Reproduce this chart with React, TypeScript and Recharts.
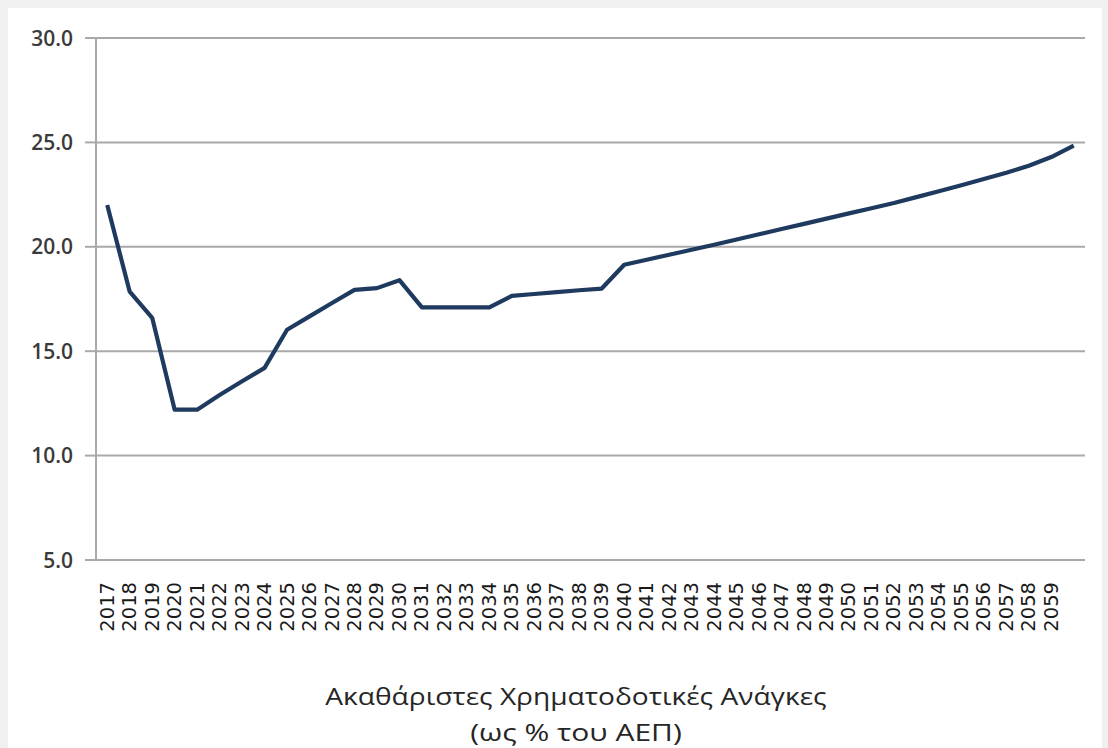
import React from "react";
import { LineChart, Line, XAxis, YAxis, CartesianGrid } from "recharts";

const years = [
  2017, 2018, 2019, 2020, 2021, 2022, 2023, 2024, 2025, 2026, 2027,
  2028, 2029, 2030, 2031, 2032, 2033, 2034, 2035, 2036, 2037, 2038,
  2039, 2040, 2041, 2042, 2043, 2044, 2045, 2046, 2047, 2048, 2049,
  2050, 2051, 2052, 2053, 2054, 2055, 2056, 2057, 2058, 2059, 2060,
];

const grossFinancingNeeds = [
  22.0, 17.85, 16.6, 12.2, 12.2, 12.9, 13.56, 14.2, 16.03, 16.67, 17.31,
  17.94, 18.02, 18.4, 17.1, 17.1, 17.1, 17.1, 17.65, 17.74, 17.83, 17.92,
  18.0, 19.14, 19.38, 19.62, 19.86, 20.1, 20.35, 20.6, 20.85, 21.1, 21.35,
  21.6, 21.85, 22.1, 22.38, 22.66, 22.95, 23.25, 23.55, 23.88, 24.3, 24.85,
];

const labelYears = [
  2017, 2018, 2019, 2020, 2021, 2022, 2023, 2024, 2025, 2026, 2027,
  2028, 2029, 2030, 2031, 2032, 2033, 2034, 2035, 2036, 2037, 2038,
  2039, 2040, 2041, 2042, 2043, 2044, 2045, 2046, 2047, 2048, 2049,
  2050, 2051, 2052, 2053, 2054, 2055, 2056, 2057, 2058, 2059,
];

const yTicks = [5, 10, 15, 20, 25, 30];

const titleLine1 = "Ακαθάριστες Χρηματοδοτικές Ανάγκες";
const titleLine2 = "(ως % του ΑΕΠ)";

const data = years.map((year, i) => ({ year, value: grossFinancingNeeds[i] }));
const boundaryTicks = [...years.map((y) => y - 0.5), years[years.length - 1] + 0.5];

const GRID = "#a9a9a9";

const XTick = (props: any) => {
  const { x, y, payload } = props;
  return (
    <text
      transform={`translate(${x + 6.5},${y + 14}) rotate(-90)`}
      textAnchor="end"
      fontFamily="'DejaVu Sans', sans-serif"
      fontSize={19.5}
      fill="#1a1a1a"
    >
      {payload.value}
    </text>
  );
};

const YTick = (props: any) => {
  const { x, y, payload } = props;
  return (
    <text
      x={x}
      y={y}
      dy="0.36em"
      textAnchor="end"
      fontFamily="'Open Sans', sans-serif"
      fontWeight={600}
      fontSize={21}
      fill="#3a3a3a"
    >
      {Number(payload.value).toFixed(1)}
    </text>
  );
};

export default function App() {
  return (
    <div
      style={{
        position: "absolute",
        left: 0,
        top: 0,
        width: 1108,
        height: 748,
        background: "#f0f0f0",
        overflow: "hidden",
      }}
    >
      <div
        style={{
          position: "absolute",
          left: 8,
          top: 8,
          width: 1094,
          height: 740,
          background: "#ffffff",
        }}
      />
      <div style={{ position: "absolute", left: 0, top: 0 }}>
        <LineChart
          width={1108}
          height={748}
          data={data}
          margin={{ top: 38, right: 23, left: 0, bottom: 108 }}
        >
          <CartesianGrid vertical={false} stroke={GRID} strokeWidth={2} />
          <XAxis
            xAxisId="marks"
            type="number"
            dataKey="year"
            domain={[2016.5, 2060.5]}
            ticks={boundaryTicks}
            tick={false}
            tickSize={7}
            height={0}
            stroke={GRID}
            tickLine={{ stroke: GRID, strokeWidth: 1.5 }}
            axisLine={{ stroke: GRID, strokeWidth: 2 }}
          />
          <XAxis
            xAxisId="labels"
            type="number"
            dataKey="year"
            domain={[2016.5, 2060.5]}
            ticks={labelYears}
            interval={0}
            tick={<XTick />}
            tickLine={false}
            axisLine={false}
            height={80}
          />
          <YAxis
            type="number"
            domain={[5, 30]}
            ticks={yTicks}
            interval={0}
            width={96}
            tickSize={11}
            tickMargin={12}
            tick={<YTick />}
            tickLine={{ stroke: GRID, strokeWidth: 2 }}
            axisLine={{ stroke: GRID, strokeWidth: 2 }}
          />
          <Line
            xAxisId="labels"
            type="linear"
            dataKey="value"
            stroke="#1f3a5f"
            strokeWidth={4.2}
            dot={false}
            isAnimationActive={false}
            strokeLinejoin="round"
          />
        </LineChart>
      </div>
      <div
        style={{
          position: "absolute",
          left: 0,
          width: 1152,
          top: 678,
          textAlign: "center",
          fontFamily: "'Open Sans', sans-serif",
          fontSize: 24,
          lineHeight: "36px",
          color: "#262626",
        }}
      >
        <div style={{ transform: "scaleX(1.17)", transformOrigin: "576px 0" }}>{titleLine1}</div>
        <div style={{ transform: "scaleX(1.25)", transformOrigin: "576px 0" }}>{titleLine2}</div>
      </div>
    </div>
  );
}
